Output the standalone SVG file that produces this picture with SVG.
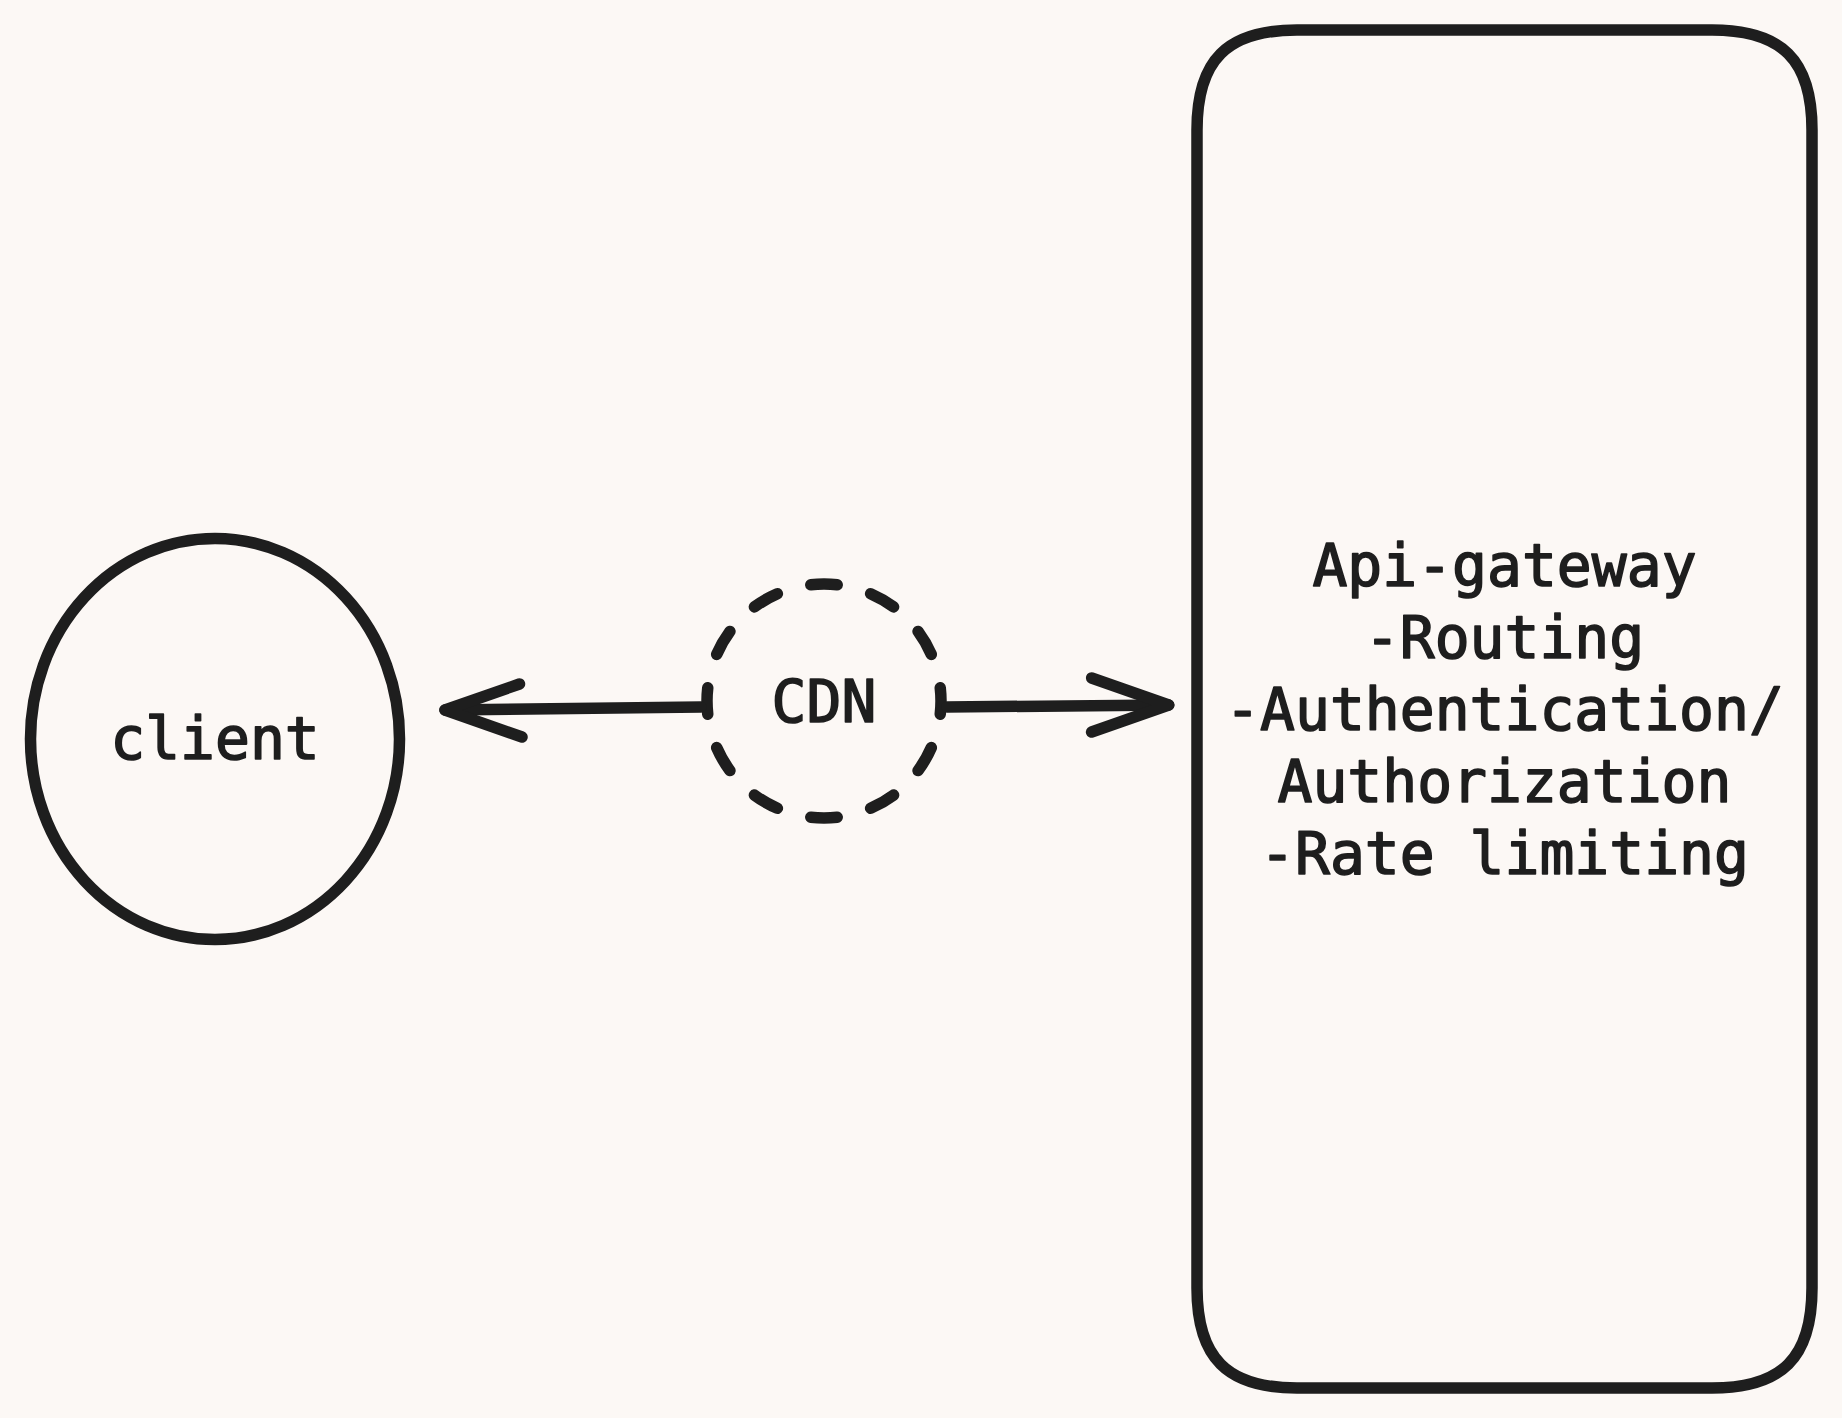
<svg xmlns="http://www.w3.org/2000/svg" width="1842" height="1418" viewBox="0 0 1842 1418">
<style>
.shape{fill:none;stroke:#1e1e1e;stroke-width:11.5;stroke-linecap:round;stroke-linejoin:round}
.lbl{font-family:"DejaVu Sans Mono","Liberation Mono",monospace;font-size:58px;fill:#1e1e1e;stroke:#1e1e1e;stroke-width:1.6;stroke-linejoin:round;text-anchor:middle}
</style>
<rect x="0" y="0" width="1842" height="1418" fill="#fcf8f5"/>
<g id="client">
<ellipse class="shape" cx="215" cy="739" rx="184.5" ry="200.5"/>
<text class="lbl" x="215" y="759">client</text>
</g>
<g id="cdn">
<circle class="shape" cx="824" cy="701" r="117" pathLength="360" stroke-dasharray="13 17" stroke-dashoffset="6.5"/>
<text class="lbl" x="824" y="722">CDN</text>
</g>
<g id="api-gateway">
<path class="shape" d="M1297 30 H1712 C1782 30 1812 60 1812 130 V1288 C1812 1358 1782 1388 1712 1388 H1297 C1227 1388 1197 1358 1197 1288 V130 C1197 60 1227 30 1297 30 Z"/>
<text class="lbl" x="1504.5" y="586">Api-gateway</text>
<text class="lbl" x="1504.5" y="658">-Routing</text>
<text class="lbl" x="1504.5" y="730">-Authentication/</text>
<text class="lbl" x="1504.5" y="802">Authorization</text>
<text class="lbl" x="1504.5" y="874">-Rate limiting</text>
</g>
<g id="connectors">
<path class="shape" d="M701 707 L445 710"/>
<path class="shape" d="M519.5 684 L445 710 L522 737"/>
<path class="shape" d="M947 707 L1168.7 705"/>
<path class="shape" d="M1091.6 678 L1168.7 705 L1091.6 732"/>
</g>
</svg>
